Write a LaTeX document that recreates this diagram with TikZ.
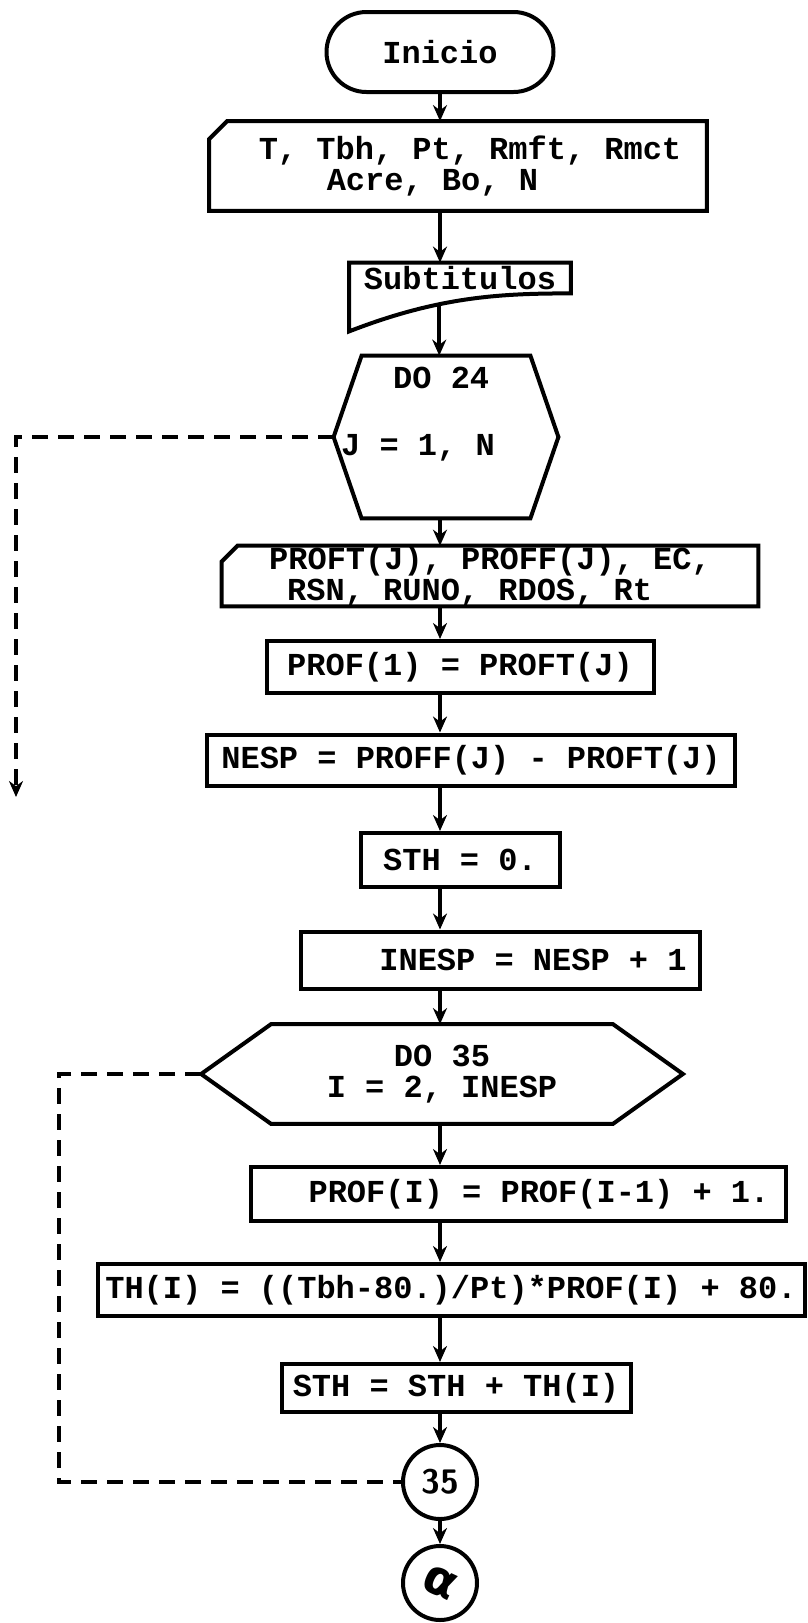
\documentclass[tikz,border=0pt]{standalone}
\usepackage{fontspec}
\setmonofont{Liberation Mono}
\newfontfamily\griega{DejaVu Sans}
\usetikzlibrary{arrows.meta}

\begin{document}
\begin{tikzpicture}[x=0.5pt, y=-0.5pt,
    every node/.style={font=\ttfamily\bfseries\fontsize{16}{15.5}\selectfont, inner sep=0pt},
    caja/.style={draw, line width=2pt},
    terminal/.style={caja, rounded corners=20pt},
    tarjeta/.style={align=left},
    conector/.style={caja, circle, minimum size=37pt},
    borde/.style={line width=2pt},
    flujo/.style={line width=2pt, -{Stealth[length=8pt,width=7pt]}},
    lazo/.style={line width=2pt, dash pattern=on 8pt off 5pt}]

    \useasboundingbox (0,0) rectangle (808,1623);
    \coordinate (eje) at (440,0);

    % inicio y lectura de datos
    \node[terminal, minimum width=113.5pt, minimum height=40pt] (ini) at (440,52) {Inicio};

    \node[tarjeta, minimum width=248.5pt, minimum height=44.5pt] (lee1) at (458,166)
        {\hspace*{12pt}T, Tbh, Pt, Rmft, Rmct\\\hspace*{46pt}Acre, Bo, N};
    \draw[borde] ([yshift=-9pt]lee1.north west) -- ([xshift=9pt]lee1.north west)
        -- (lee1.north east) -- (lee1.south east) -- (lee1.south west) -- cycle;

    % subtitulos (documento)
    \node[minimum width=110.5pt, minimum height=15pt] (sub) at (460,278) {Subtitulos};
    \draw[borde] (sub.north west) -- (sub.north east) -- (sub.south east)
        .. controls +(-70,0) and +(90,-35) .. ([yshift=-19pt]sub.south west) coordinate[pos=0.63] (subpie)
        -- cycle;

    % lazo DO 24
    \node[align=left, minimum width=112pt, minimum height=81pt, text depth=25.5pt] (do24) at (446,437)
        {\hspace*{26pt}DO 24\\[18pt]J = 1, N\hspace*{28pt}};
    \draw[borde] ([xshift=14pt]do24.north west) -- ([xshift=-14pt]do24.north east) -- (do24.east)
        -- ([xshift=-14pt]do24.south east) -- ([xshift=14pt]do24.south west) -- (do24.west) -- cycle;

    \node[tarjeta, minimum width=268pt, minimum height=29pt] (lee2) at (490,576)
        {PROFT(J), PROFF(J), EC,\\\hspace*{9pt}RSN, RUNO, RDOS, Rt};
    \draw[borde] ([yshift=-8pt]lee2.north west) -- ([xshift=8pt]lee2.north west)
        -- (lee2.north east) -- (lee2.south east) -- (lee2.south west) -- cycle;

    \node[caja, minimum width=193.5pt, minimum height=26pt] (prof1) at (460,667) {PROF(1) = PROFT(J)};
    \node[caja, minimum width=264pt, minimum height=25.5pt] (nesp) at (471,760) {NESP = PROFF(J) - PROFT(J)};
    \node[caja, minimum width=99.5pt, minimum height=27pt] (sth0) at (460,860) {STH = 0.};
    \node[caja, minimum width=199.5pt, minimum height=28.5pt] (inesp) at (500,960) {\hspace*{33pt}INESP = NESP + 1};

    % lazo DO 35
    \node[align=center, minimum width=240.5pt, minimum height=49.5pt] (do35) at (442,1074)
        {DO 35\\I = 2, INESP};
    \draw[borde] ([xshift=35pt]do35.north west) -- ([xshift=-35pt]do35.north east) -- (do35.east)
        -- ([xshift=-35pt]do35.south east) -- ([xshift=35pt]do35.south west) -- (do35.west) -- cycle;

    \node[caja, minimum width=267.5pt, minimum height=27pt] (profi) at (518,1194) {\hspace*{21pt}PROF(I) = PROF(I-1) + 1.};
    \node[caja, minimum width=353.5pt, minimum height=26pt] (thi) at (451,1290) {TH(I) = ((Tbh-80.)/Pt)*PROF(I) + 80.};
    \node[caja, minimum width=174.5pt, minimum height=24pt] (sth) at (456,1388) {STH = STH + TH(I)};

    % conectores
    \node[conector, font=\sffamily\bfseries\fontsize{17}{17}\selectfont] (c35) at (440,1482) {35};
    \node[conector, font=\griega\bfseries\fontsize{24}{24}\selectfont] (alfa) at (440,1583) {\rotatebox{-25}{α}};

    % flechas
    \draw[flujo] (eje |- ini.south) -- (eje |- lee1.north);
    \draw[flujo] (eje |- lee1.south) -- (eje |- sub.north);
    \draw[flujo] (subpie) -- (subpie |- do24.north);
    \draw[flujo] (eje |- do24.south) -- (eje |- lee2.north);
    \draw[flujo] (eje |- lee2.south) -- (eje |- prof1.north);
    \draw[flujo] (eje |- prof1.south) -- (eje |- nesp.north);
    \draw[flujo] (eje |- nesp.south) -- (eje |- sth0.north);
    \draw[flujo] (eje |- sth0.south) -- (eje |- inesp.north);
    \draw[flujo] (eje |- inesp.south) -- (eje |- do35.north);
    \draw[flujo] (eje |- do35.south) -- (eje |- profi.north);
    \draw[flujo] (eje |- profi.south) -- (eje |- thi.north);
    \draw[flujo] (eje |- thi.south) -- (eje |- sth.north);
    \draw[flujo] (eje |- sth.south) -- (c35.north);
    \draw[flujo] (c35.south) -- (alfa.north);

    % salidas de los lazos
    \coordinate (fin24) at (16,797);
    \draw[lazo, -{Stealth[length=8pt,width=7pt]}] (do24.west) -| (fin24);
    \draw[lazo] (do35.west) -- ++(-142,0) |- (c35.west);
\end{tikzpicture}
\end{document}
